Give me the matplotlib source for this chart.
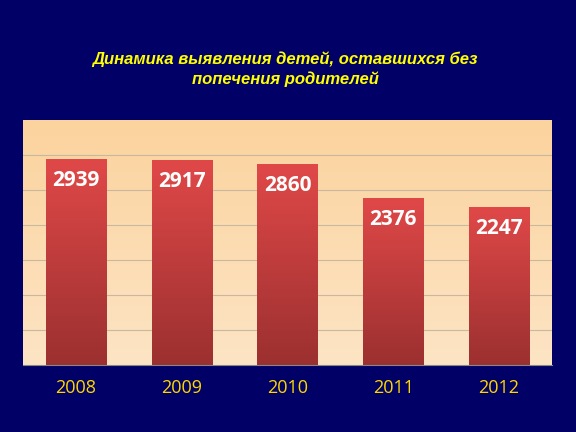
import numpy as np
from matplotlib import pyplot as plt
from matplotlib.colors import LinearSegmentedColormap

years = ['2008', '2009', '2010', '2011', '2012']
values = [2939, 2917, 2860, 2376, 2247]
title = 'Динамика выявления детей, оставшихся без\nпопечения родителей'

fig = plt.figure(figsize=(5.76, 4.32), dpi=100, facecolor='#000066')
ax = fig.add_axes([23/576, 1-365/432, 529/576, 245/432])
ax.set_xlim(-0.5, 4.5)
ax.set_ylim(0, 3500)

# light orange background gradient
bg = LinearSegmentedColormap.from_list('bg', ['#fde4c4', '#fbd39e'])
ax.imshow(np.linspace(0, 1, 100).reshape(-1, 1), cmap=bg, aspect='auto',
          extent=[-0.5, 4.5, 0, 3500], origin='lower', zorder=0)
for y in range(500, 3500, 500):
    ax.axhline(y, color='#c8b8a0', lw=0.8, zorder=1)

red = LinearSegmentedColormap.from_list('red', ['#9c3030', '#e04848'])
width = 0.57
for i, v in enumerate(values):
    ax.imshow(np.linspace(0, 1, 100).reshape(-1, 1), cmap=red, aspect='auto',
              extent=[i - width/2, i + width/2, 0, v], origin='lower', zorder=2)
    ax.text(i, v - 300, str(v), ha='center', va='center', color='white',
            fontsize=15, fontweight='bold', family='Open Sans', zorder=3)

ax.set_xticks(range(len(years)))
ax.set_xticklabels(years, color='#ffd700', fontsize=13, family='Open Sans')
ax.set_yticks([])
ax.tick_params(axis='x', length=0, pad=10)
for s in ['top', 'right', 'left']:
    ax.spines[s].set_visible(False)
ax.spines['bottom'].set_color('#888888')

fig.text(0.495, 0.84, title, ha='center', va='center', color='#ffff00',
         fontsize=12, fontweight='bold', style='italic', family='Liberation Sans',
         linespacing=1.3)

fig.savefig('out.png', dpi=100, facecolor=fig.get_facecolor())
